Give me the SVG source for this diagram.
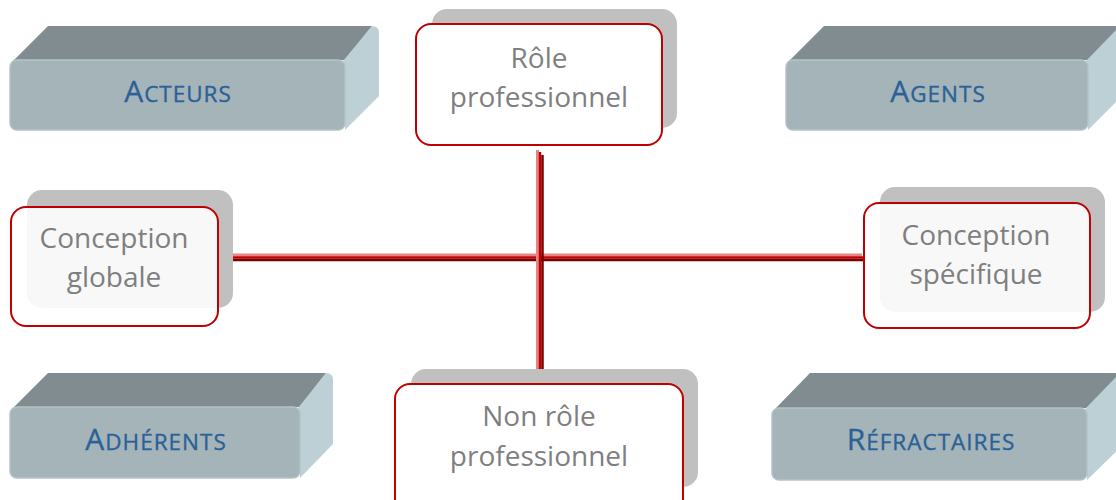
<svg xmlns="http://www.w3.org/2000/svg" width="1116" height="500" viewBox="0 0 1116 500">
<style>
.top{fill:#818c91}
.side{fill:#bdd0d5}
.front{fill:#a5b4b9;stroke:#b3c2c6;stroke-width:1.5}
.lbl{font-family:"Open Sans","Liberation Sans",sans-serif;fill:#2a6196;text-anchor:middle;letter-spacing:1px;stroke:#2a6196;stroke-width:0.35}
.big{font-size:30px}
.sm{font-size:22.5px}
.shadow{fill:#c0c0c0}
.card{stroke:#c00000;stroke-width:2}
.txt{font-family:"Open Sans","Liberation Sans",sans-serif;font-size:28px;fill:#7f7f7f;text-anchor:middle}
</style>
<rect width="1116" height="500" fill="#ffffff"/>

<g id="connectors">
  <line x1="228" y1="255" x2="862" y2="255" stroke="#e58585" stroke-width="3"/>
  <line x1="230" y1="257.5" x2="863" y2="257.5" stroke="#c00000" stroke-width="2.5"/>
  <line x1="232" y1="260" x2="864" y2="260" stroke="#7a0000" stroke-width="2.5"/>
  <line x1="537.5" y1="150" x2="537.5" y2="377" stroke="#e58585" stroke-width="3"/>
  <line x1="540" y1="152" x2="540" y2="379" stroke="#c00000" stroke-width="2.5"/>
  <line x1="542.5" y1="155" x2="542.5" y2="382" stroke="#7a0000" stroke-width="2.5"/>
</g>

<g id="acteurs">
  <polygon class="top" points="14,60 48,26 372,26 345,60"/>
  <path class="side" d="M343,61 L372,26 Q379,26 379,33 L379,96 L345,130 Z"/>
  <rect class="front" x="10" y="60" width="335" height="70" rx="7"/>
  <text class="lbl" x="178" y="102"><tspan class="big">A</tspan><tspan class="sm">CTEURS</tspan></text>
</g>

<g id="agents">
  <polygon class="top" points="790,60 824,26 1122,26 1088,60"/>
  <path class="side" d="M1086,61 L1120,26 L1122,26 L1122,96 L1088,130 Z"/>
  <rect class="front" x="786" y="60" width="302" height="70" rx="7"/>
  <text class="lbl" x="938" y="102"><tspan class="big">A</tspan><tspan class="sm">GENTS</tspan></text>
</g>

<g id="adherents">
  <polygon class="top" points="14,407 48,373 326,373 300,407"/>
  <path class="side" d="M298,408 L326,373 Q333,373 333,380 L333,444 L300,478 Z"/>
  <rect class="front" x="10" y="407" width="290" height="71" rx="7"/>
  <text class="lbl" x="156" y="450"><tspan class="big">A</tspan><tspan class="sm">DHÉRENTS</tspan></text>
</g>

<g id="refractaires">
  <polygon class="top" points="776,408 810,373 1122,373 1087,408"/>
  <path class="side" d="M1085,409 L1120,373 L1122,373 L1122,446 L1087,480 Z"/>
  <rect class="front" x="772" y="408" width="315" height="72" rx="7"/>
  <text class="lbl" x="931" y="450"><tspan class="big">R</tspan><tspan class="sm">ÉFRACTAIRES</tspan></text>
</g>

<g id="role-professionnel">
  <rect class="shadow" x="432" y="9" width="245" height="119" rx="15"/>
  <rect class="card" x="416" y="24" width="246" height="121" rx="15" fill="#ffffff"/>
  <text class="txt" x="539" y="68">Rôle</text>
  <text class="txt" x="539" y="107">professionnel</text>
</g>

<g id="conception-globale">
  <rect class="shadow" x="27" y="190" width="206" height="118" rx="15"/>
  <rect class="card" x="11" y="207" width="207" height="119" rx="15" fill="#ffffff" fill-opacity="0.88"/>
  <text class="txt" x="114" y="248">Conception</text>
  <text class="txt" x="114" y="287">globale</text>
</g>

<g id="conception-specifique">
  <rect class="shadow" x="880" y="187" width="225" height="125" rx="15"/>
  <rect class="card" x="864" y="203" width="226" height="125" rx="15" fill="#ffffff" fill-opacity="0.88"/>
  <text class="txt" x="976" y="245">Conception</text>
  <text class="txt" x="976" y="284">spécifique</text>
</g>

<g id="non-role-professionnel">
  <rect class="shadow" x="411" y="369" width="287" height="118" rx="15"/>
  <rect class="card" x="395" y="384" width="288" height="130" rx="15" fill="#ffffff"/>
  <text class="txt" x="539" y="426">Non rôle</text>
  <text class="txt" x="539" y="466">professionnel</text>
</g>
</svg>
